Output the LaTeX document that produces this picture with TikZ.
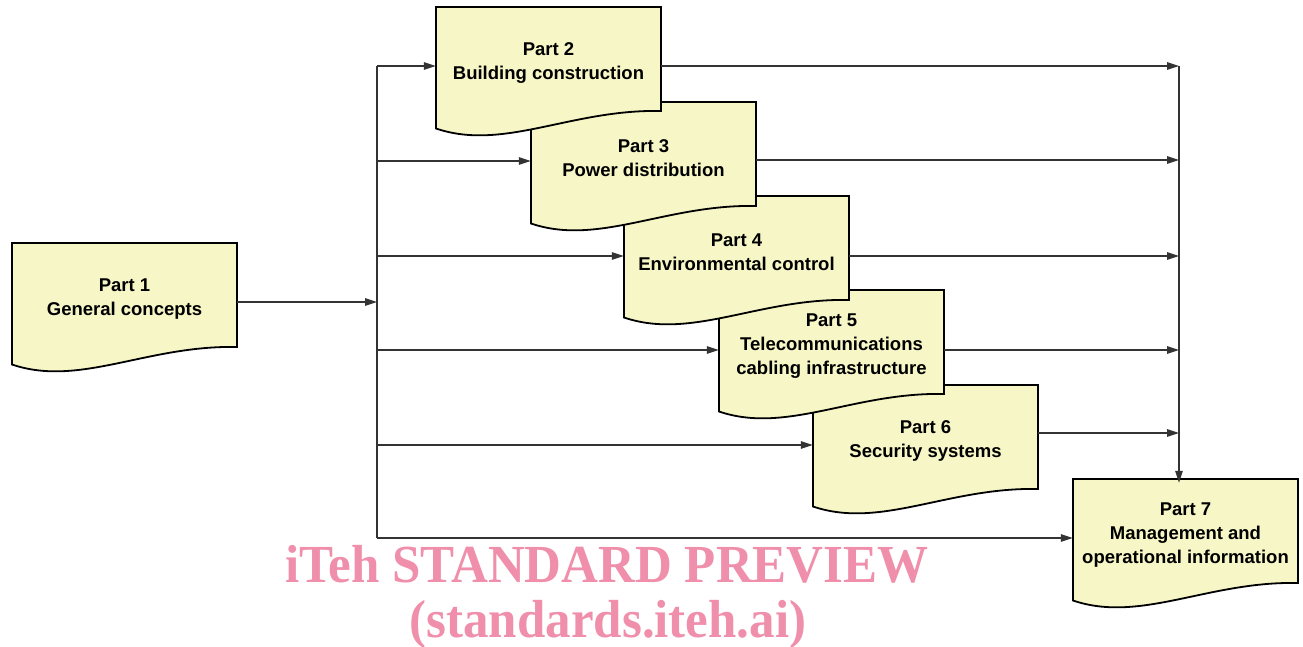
\documentclass[tikz,border=0pt]{standalone}
\usepackage{fontspec}
\setmainfont{Liberation Sans}
\newfontfamily\wmfont{Liberation Serif}
\usetikzlibrary{arrows.meta}
\definecolor{docfill}{RGB}{246,246,198}
\definecolor{linegray}{RGB}{51,51,51}
\definecolor{wmpink}{RGB}{239,143,171}
\tikzset{
  docedge/.style={draw=black, fill=docfill, line width=1.8pt, line join=miter},
  docbox/.style={draw=none, minimum width=225pt, minimum height=104pt, inner sep=0pt, align=center, font=\bfseries\fontsize{18.5}{23.8}\selectfont},
  wire/.style={draw=linegray, line width=1.2pt},
  conn/.style={wire, -{Triangle[length=12pt,width=7.5pt]}},
  wmtext/.style={font=\wmfont\bfseries\fontsize{51}{57}\selectfont, text=wmpink, anchor=base, inner sep=0pt, yscale=1.05}
}
\newcommand\docpart[4]{%
  \path[docedge] (#2,#3) -- ({#2+225},#3) -- ({#2+225},{#3+104})
    .. controls ({#2+135},{#3+102}) and ({#2+67.5},{#3+144.5}) .. (#2,{#3+121.5}) -- cycle;
  \node[docbox] (#1) at ({#2+112.5},{#3+56}) {#4};
}
\begin{document}
\begin{tikzpicture}[x=1pt,y=-1pt]
\useasboundingbox (0,0) rectangle (1303,647);
% documents (later drawn on top)
\docpart{p7}{1073}{479}{Part 7\\Management and\\operational information}
\docpart{p6}{813}{385}{Part 6\\Security systems}
\docpart{p5}{719}{290}{Part 5\\Telecommunications\\cabling infrastructure}
\docpart{p4}{624}{196}{Part 4\\Environmental control}
\docpart{p3}{531}{102}{Part 3\\Power distribution}
\docpart{p2}{436}{7}{Part 2\\Building construction}
\docpart{p1}{12}{243}{Part 1\\General concepts}
% left bus
\coordinate (lb1) at (377,302);
\coordinate (lb2) at (377,66);
\coordinate (lb3) at (377,161);
\coordinate (lb4) at (377,256);
\coordinate (lb5) at (377,350);
\coordinate (lb6) at (377,445);
\coordinate (lb7) at (377,538);
\draw[wire] (lb2) -- (lb7);
\draw[conn] (lb1 -| p1.east) -- (lb1);
\draw[conn] (lb2) -- (lb2 -| p2.west);
\draw[conn] (lb3) -- (lb3 -| p3.west);
\draw[conn] (lb4) -- (lb4 -| p4.west);
\draw[conn] (lb5) -- (lb5 -| p5.west);
\draw[conn] (lb6) -- (lb6 -| p6.west);
\draw[conn] (lb7) -- (lb7 -| p7.west);
% right bus
\coordinate (rb2) at (1179,66);
\coordinate (rb3) at (1179,160);
\coordinate (rb4) at (1179,256);
\coordinate (rb5) at (1179,350);
\coordinate (rb6) at (1179,433);
\draw[conn] (rb2) -- (rb2 |- p7.north);
\draw[conn] (rb2 -| p2.east) -- (rb2);
\draw[conn] (rb3 -| p3.east) -- (rb3);
\draw[conn] (rb4 -| p4.east) -- (rb4);
\draw[conn] (rb5 -| p5.east) -- (rb5);
\draw[conn] (rb6 -| p6.east) -- (rb6);
% watermark
\node[wmtext] (wm1) at (607,582) {iTeh STANDARD PREVIEW};
\node[wmtext] (wm2) at (608,637) {(standards.iteh.ai)};
\end{tikzpicture}
\end{document}
